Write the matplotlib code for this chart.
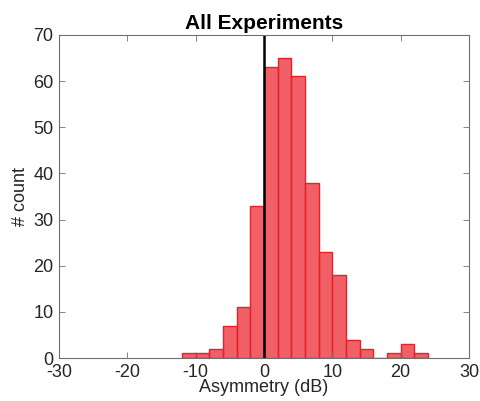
import matplotlib
matplotlib.use("Agg")
import matplotlib.pyplot as plt
import numpy as np

plt.rcParams['font.family'] = ['Liberation Sans', 'DejaVu Sans']
plt.rcParams['axes.unicode_minus'] = False

bin_edges = [-12, -10, -8, -6, -4, -2, 0, 2, 4, 6, 8, 10, 12, 14, 16, 18, 20, 22, 24]
counts = [1, 1, 2, 7, 11, 33, 63, 65, 61, 38, 23, 18, 4, 2, 0, 1, 3, 1]
title = "All Experiments"
xlabel = "Asymmetry (dB)"
ylabel = "# count"
xticks = [-30, -20, -10, 0, 10, 20, 30]
yticks = [0, 10, 20, 30, 40, 50, 60, 70]

fig = plt.figure(figsize=(4.8, 4.01), dpi=100)
ax = fig.add_axes([0.123, 0.107, 0.854, 0.806])

edges = np.array(bin_edges)
ax.hist(edges[:-1], bins=edges, weights=counts, facecolor=(0.93, 0.22, 0.25, 0.8),
        edgecolor='#E8202A', linewidth=1.0)
ax.axvline(0, color='black', linewidth=1.8)

ax.set_xlim(-30, 30)
ax.set_ylim(0, 70)
ax.set_xticks(xticks)
ax.set_yticks(yticks)
grey = '#262626'
for s in ax.spines.values():
    s.set_color('#6f6f6f')
    s.set_linewidth(0.8)
ax.tick_params(direction='in', length=4, width=0.6, colors='#6f6f6f', labelcolor=grey,
               labelsize=13, top=True, right=True)
ax.tick_params(axis='x', pad=4)
ax.tick_params(axis='y', pad=4)
ax.set_xlabel(xlabel, fontsize=13, color=grey, labelpad=-1)
ax.set_ylabel(ylabel, fontsize=13, color=grey, labelpad=3)
ax.set_title(title, fontsize=15, fontweight='bold', color='black', pad=4)

fig.savefig("out.png", dpi=100)
